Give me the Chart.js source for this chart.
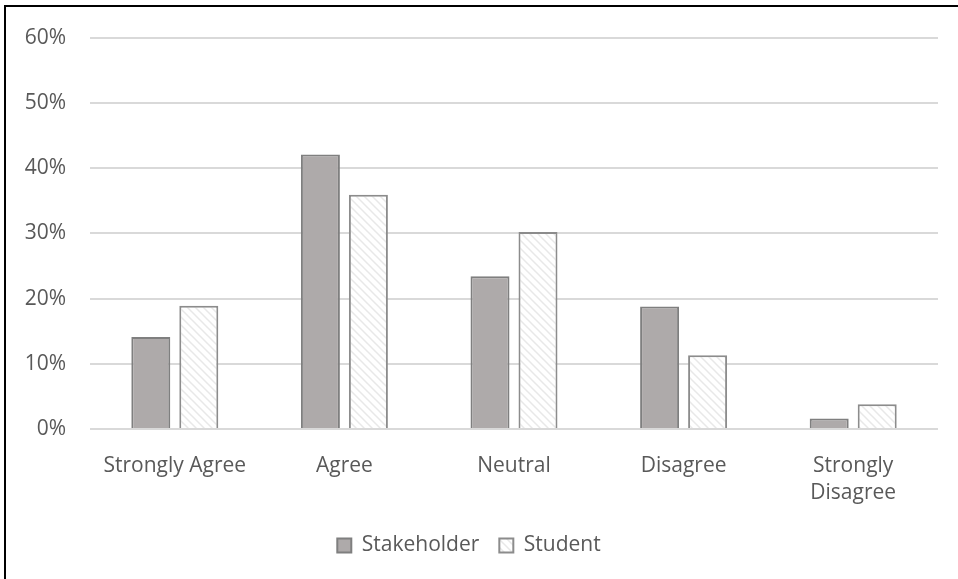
<!DOCTYPE html>
<html>
<head>
<meta charset="utf-8">
<script src="https://cdn.jsdelivr.net/npm/chart.js@4.4.1/dist/chart.umd.min.js"></script>
<style>
    html, body { margin: 0; padding: 0; background: #fff; }
    #wrap { position: relative; width: 958px; height: 579px; overflow: hidden; }
    #frame { position: absolute; left: 4px; top: 5px; width: 980px; height: 600px; border: 2px solid #000; box-sizing: border-box; pointer-events: none; }
    canvas { position: absolute; left: 0; top: 0; }
</style>
</head>
<body>
<div id="wrap">
    <canvas id="chart" width="958" height="579"></canvas>
    <div id="frame"></div>
</div>
<script>
// valores (percentagens)
const categories = ['Strongly Agree', 'Agree', 'Neutral', 'Disagree', ['Strongly', 'Disagree']];
const stakeholderValues = [14.1, 42.1, 23.4, 18.8, 1.6];
const studentValues = [18.9, 35.9, 30.2, 11.3, 3.8];
const yTicks = [0, 10, 20, 30, 40, 50, 60];

const TEXT_COLOR = '#595959';
const FONT = { family: '"Open Sans", sans-serif', size: 21, lineHeight: 1.3 };

// padrão tracejado diagonal (bem claro) para a série Student
function makeHatch() {
    const c = document.createElement('canvas');
    c.width = 8; c.height = 8;
    const g = c.getContext('2d');
    g.fillStyle = '#ffffff';
    g.fillRect(0, 0, 8, 8);
    g.strokeStyle = '#e8e8e8';
    g.lineWidth = 1.5;
    g.beginPath();
    g.moveTo(0, 0); g.lineTo(8, 8);
    g.moveTo(-4, 4); g.lineTo(4, 12);
    g.moveTo(4, -4); g.lineTo(12, 4);
    g.stroke();
    return g.createPattern(c, 'repeat');
}

const ctx = document.getElementById('chart').getContext('2d');
new Chart(ctx, {
    type: 'bar',
    data: {
        labels: categories,
        datasets: [
            { label: 'Stakeholder', data: stakeholderValues, backgroundColor: '#aeaaaa', borderColor: '#7f7f7f', borderWidth: 2, categoryPercentage: 0.566, barPercentage: 0.8125 },
            { label: 'Student', data: studentValues, backgroundColor: makeHatch(), borderColor: '#8c8c8c', borderWidth: 2, categoryPercentage: 0.566, barPercentage: 0.8125 }
        ]
    },
    options: {
        responsive: false,
        animation: false,
        layout: { padding: { left: 0, right: 20, top: 31, bottom: 13 } },
        scales: {
            x: {
                grid: { display: false },
                border: { display: false },
                ticks: { color: TEXT_COLOR, font: FONT, padding: 15, maxRotation: 0, autoSkip: false },
                afterFit: (s) => { s.height = 86; }
            },
            y: {
                min: 0, max: 60,
                afterBuildTicks: (s) => { s.ticks = yTicks.map(v => ({ value: v })); },
                grid: { color: '#d9d9d9', lineWidth: 2, drawTicks: false },
                border: { display: false },
                ticks: { color: TEXT_COLOR, font: FONT, padding: 24, callback: (v) => v + '%' },
                afterFit: (s) => { s.width = 90; }
            }
        },
        plugins: {
            legend: {
                position: 'bottom',
                labels: { color: TEXT_COLOR, font: FONT, boxWidth: 14, boxHeight: 14, padding: 20 }
            },
            tooltip: { enabled: false }
        }
    }
});
</script>
</body>
</html>
